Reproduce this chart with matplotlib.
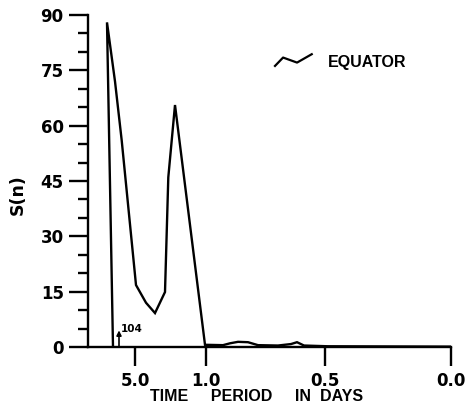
import matplotlib
matplotlib.use("Agg")
import matplotlib.pyplot as plt
from matplotlib.legend_handler import HandlerBase
from matplotlib.lines import Line2D

# ---- data (x position along the period axis, arbitrary units) ----
x_pos = [25, 19, 27, 33.7, 48, 58, 67, 77, 80.3, 87, 117, 135, 142, 150, 160,
         170, 190, 203, 209, 216, 240, 363]
s_n = [0, 88, 72, 56, 16.8, 12, 9.2, 14.9, 46, 65.6, 0.6, 0.5, 1.0, 1.4, 1.3,
       0.5, 0.4, 0.8, 1.3, 0.4, 0.2, 0.1]

xtick_pos = [47, 118, 237, 363]
xtick_labels = ["5.0", "1.0", "0.5", "0.0"]
ytick_major = [0, 15, 30, 45, 60, 75, 90]
ytick_minor = [5, 10, 20, 25, 35, 40, 50, 55, 65, 70, 80, 85]

peak_true = 104
peak_arrow_x = 31
series_name = "EQUATOR"

NUMFONT = "DejaVu Sans"
FONT = "Liberation Sans"

fig = plt.figure(figsize=(4.69, 4.12), dpi=100)
ax = fig.add_axes([88 / 469, 65 / 412, 363 / 469, 332 / 412])

ax.plot(x_pos, s_n, color="black", lw=1.7, solid_joinstyle="miter")

ax.set_xlim(0, 363)
ax.set_ylim(0, 90)

for side in ("top", "right"):
    ax.spines[side].set_visible(False)
for side in ("left", "bottom"):
    ax.spines[side].set_linewidth(1.7)

ax.set_xticks(xtick_pos)
ax.set_xticklabels(xtick_labels)
ax.set_yticks(ytick_major)
ax.set_yticks(ytick_minor, minor=True)

ax.tick_params(axis="x", direction="out", length=14, width=1.7, pad=4,
               labelsize=12)
ax.tick_params(axis="y", which="major", direction="out", length=14, width=1.7,
               pad=3.5, labelsize=12)
ax.tick_params(axis="y", which="minor", direction="out", length=7, width=1.7)
for lab in ax.get_xticklabels() + ax.get_yticklabels():
    lab.set_fontfamily(NUMFONT)
    lab.set_fontweight("bold")

ax.set_xlabel("TIME     PERIOD     IN  DAYS", fontfamily=FONT,
              fontweight="bold", fontsize=11.5)
ax.xaxis.set_label_coords(0.463, -0.127)
ax.set_ylabel("S(n)", fontfamily=NUMFONT, fontweight="bold", fontsize=12.5)
ax.yaxis.set_label_coords(-0.168, 0.46)

# arrow indicating the true (off-scale) peak value
ax.annotate("", xy=(peak_arrow_x, 4.5), xytext=(peak_arrow_x, 0),
            arrowprops=dict(arrowstyle="-|>", color="black", lw=1.2,
                            mutation_scale=7, shrinkA=0, shrinkB=0))
ax.text(peak_arrow_x + 2, 4.8, str(peak_true), fontsize=7.5, fontfamily=NUMFONT,
        fontweight="bold", va="center", ha="left")


class ZigZagHandler(HandlerBase):
    def create_artists(self, legend, orig_handle, xdescent, ydescent,
                       width, height, fontsize, trans):
        xs = [0, 0.22, 0.6, 1.0]
        ys = [0.05, 0.8, 0.35, 1.1]
        xd = [-xdescent + f * width for f in xs]
        yd = [-ydescent + f * height for f in ys]
        line = Line2D(xd, yd, color="black", lw=1.6, transform=trans)
        return [line]


handle = Line2D([], [], color="black")
leg = ax.legend([handle], [series_name], handler_map={Line2D: ZigZagHandler()},
                loc="center left",
                bbox_to_anchor=((275 - 88) / 363, (347 - 62) / 332),
                frameon=False, borderpad=0, borderaxespad=0, handlelength=2.3,
                handletextpad=1.0,
                prop={"family": FONT, "weight": "bold", "size": 11.5})

fig.savefig("out.png", dpi=100)
